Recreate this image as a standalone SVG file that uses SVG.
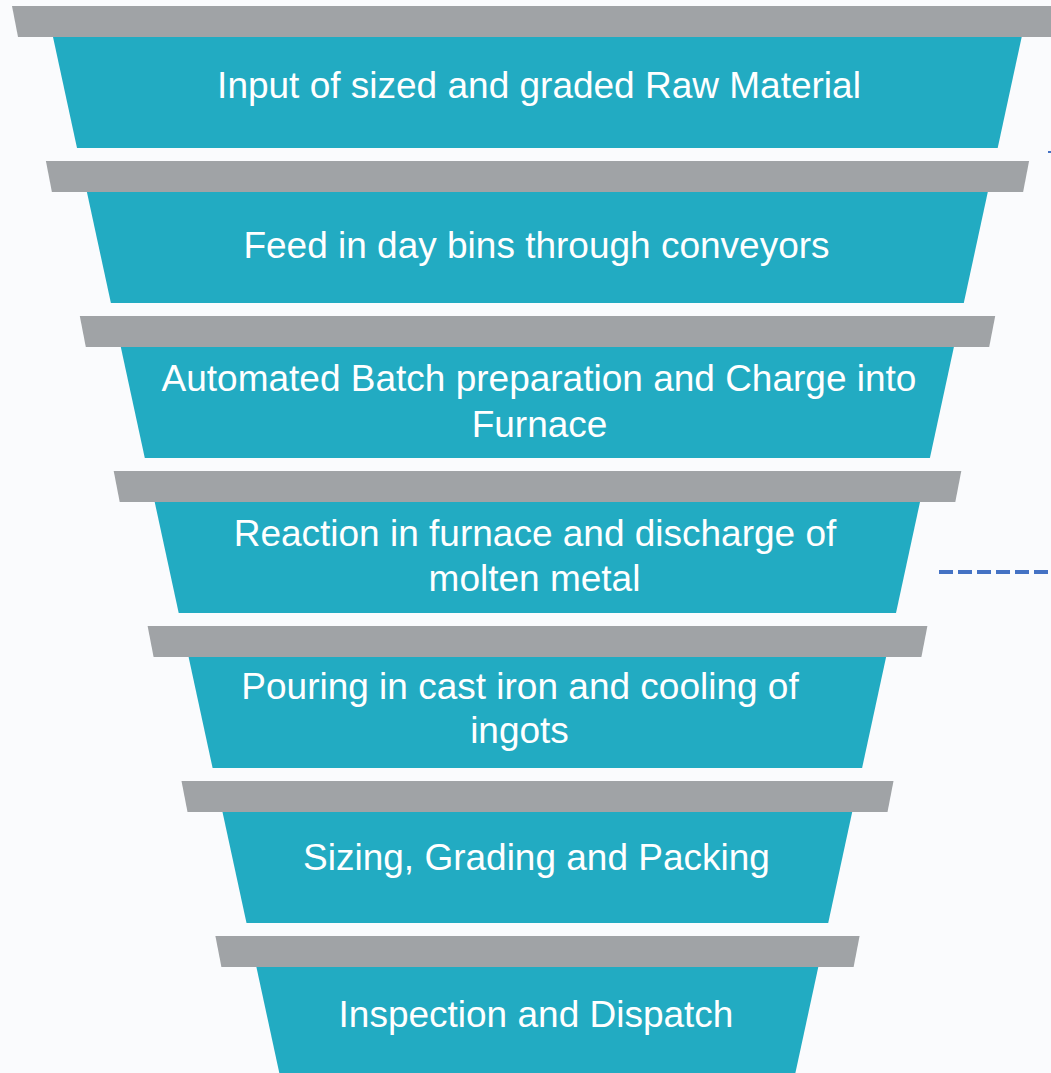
<svg xmlns="http://www.w3.org/2000/svg" width="1051" height="1073" viewBox="0 0 1051 1073">
<style>
.bar{fill:#a0a3a6}
.body{fill:#22abc2}
.lbl{font-family:"Liberation Sans",Arial,sans-serif;font-size:37px;fill:#ffffff;text-anchor:middle}
.dash{stroke:#4472c4;stroke-width:4;stroke-dasharray:14 5;fill:none}
</style>
<rect x="0" y="0" width="1051" height="1073" fill="#fafbfd"/>
<g id="connectors">
<line class="dash" x1="939" y1="572" x2="1051" y2="572"/>
<line x1="1048" y1="152" x2="1051" y2="152" stroke="#4472c4" stroke-width="2"/>
</g>
<g id="step1">
<polygon class="bar" points="12,6 1063,6 1057,37 18,37"/>
<polygon class="body" points="53,37 1021.7,37 997.7,148 77,148"/>
<text class="lbl" x="539" y="98">Input of sized and graded Raw Material</text>
</g>
<g id="step2">
<polygon class="bar" points="45.9,161 1029.1,161 1023.1,192 51.9,192"/>
<polygon class="body" points="86.9,192 987.8,192 963.8,303 110.9,303"/>
<text class="lbl" x="536.5" y="258">Feed in day bins through conveyors</text>
</g>
<g id="step3">
<polygon class="bar" points="79.8,316 995.2,316 989.2,347 85.8,347"/>
<polygon class="body" points="120.8,347 953.9,347 929.9,458 144.8,458"/>
<text class="lbl" x="539" y="391">Automated Batch preparation and Charge into</text>
<text class="lbl" x="539.5" y="436.5">Furnace</text>
</g>
<g id="step4">
<polygon class="bar" points="113.7,471 961.3,471 955.3,502 119.7,502"/>
<polygon class="body" points="154.7,502 920,502 896,613 178.7,613"/>
<text class="lbl" x="535" y="546">Reaction in furnace and discharge of</text>
<text class="lbl" x="534.5" y="591">molten metal</text>
</g>
<g id="step5">
<polygon class="bar" points="147.6,626 927.4,626 921.4,657 153.6,657"/>
<polygon class="body" points="188.6,657 886.1,657 862.1,768 212.6,768"/>
<text class="lbl" x="520" y="699">Pouring in cast iron and cooling of</text>
<text class="lbl" x="519.5" y="742.5">ingots</text>
</g>
<g id="step6">
<polygon class="bar" points="181.5,781 893.5,781 887.5,812 187.5,812"/>
<polygon class="body" points="222.5,812 852.2,812 828.2,923 246.5,923"/>
<text class="lbl" x="536.5" y="870">Sizing, Grading and Packing</text>
</g>
<g id="step7">
<polygon class="bar" points="215.4,936 859.6,936 853.6,967 221.4,967"/>
<polygon class="body" points="256.4,967 818.3,967 794.3,1078 280.4,1078"/>
<text class="lbl" x="536" y="1026.5">Inspection and Dispatch</text>
</g>
</svg>
